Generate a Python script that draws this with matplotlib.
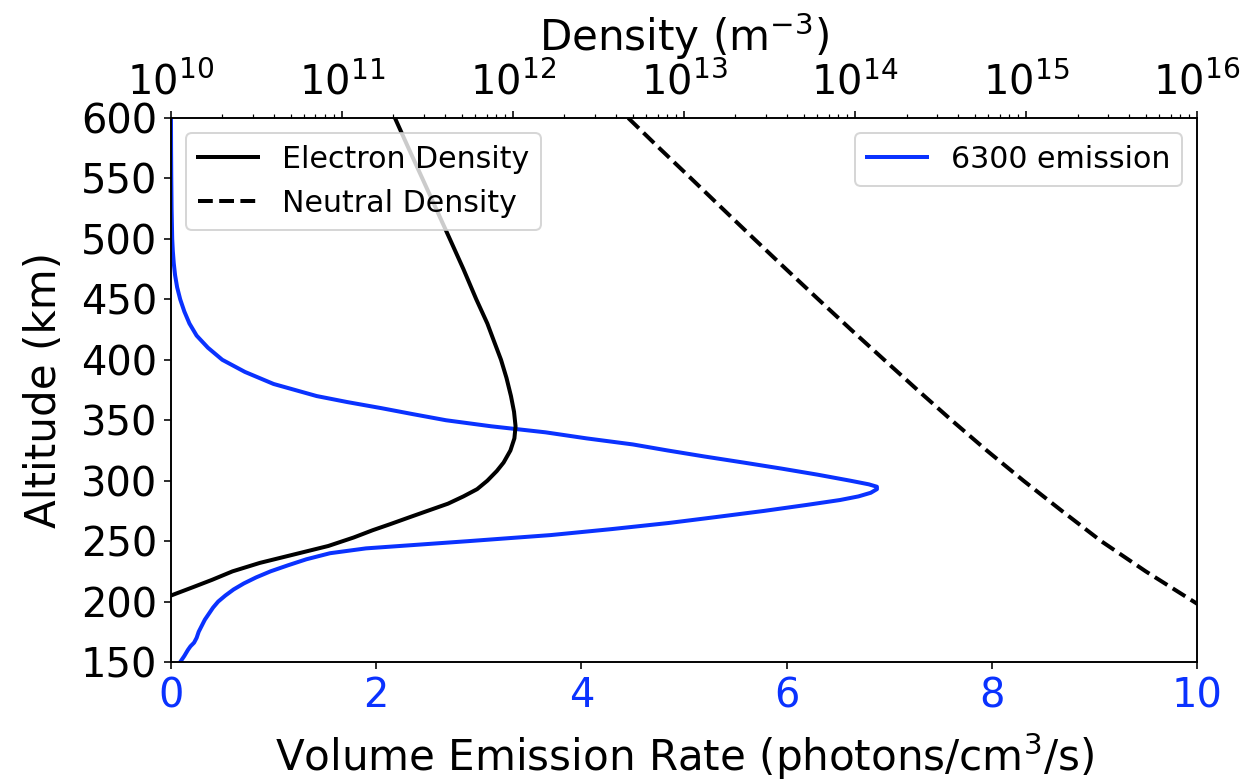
import matplotlib
matplotlib.use("Agg")
import matplotlib.pyplot as plt

# 6300 emission (volume emission rate, photons/cm^3/s) vs altitude (km)
ver_alt = [600, 575, 550, 525, 500, 490, 480, 470, 460, 450, 440, 430, 420, 410,
           400, 390, 380, 370, 365, 360, 355, 350, 345, 340, 335, 330, 325, 320,
           315, 310, 305, 300, 297, 295, 293, 290, 287, 284, 280, 275, 270, 265,
           260, 255, 250, 247, 244, 240, 235, 230, 225, 220, 215, 210, 205, 200,
           195, 190, 185, 180, 175, 170, 166, 163, 160, 155, 150]
ver_val = [0.0, 0.001, 0.003, 0.006, 0.012, 0.018, 0.027, 0.04, 0.06, 0.09, 0.13,
           0.18, 0.25, 0.36, 0.5, 0.72, 1.0, 1.42, 1.72, 2.05, 2.36, 2.68, 3.12,
           3.65, 4.05, 4.5, 4.84, 5.2, 5.58, 5.95, 6.3, 6.62, 6.8, 6.88, 6.88, 6.82,
           6.7, 6.52, 6.2, 5.78, 5.32, 4.85, 4.3, 3.7, 2.9, 2.4, 1.9, 1.55, 1.32,
           1.14, 0.97, 0.83, 0.71, 0.61, 0.53, 0.46, 0.41, 0.37, 0.33, 0.30, 0.27,
           0.25, 0.225, 0.19, 0.165, 0.13, 0.09]

# Electron density (m^-3) vs altitude (km)
ne_alt = [600, 575, 550, 525, 500, 475, 450, 430, 415, 400, 385, 370, 357, 345,
          335, 325, 315, 308, 300, 293, 287, 281, 275, 270, 264, 259, 253, 246,
          239, 232, 225, 218, 212, 205, 195]
ne_val = [2.04e11, 2.45e11, 2.95e11, 3.55e11, 4.27e11, 5.13e11, 6.10e11, 7.08e11,
          7.76e11, 8.51e11, 9.16e11, 9.73e11, 1.014e12, 1.035e12, 1.019e12,
          9.66e11, 8.81e11, 8.04e11, 7.08e11, 6.17e11, 5.13e11, 4.17e11, 3.16e11,
          2.51e11, 1.91e11, 1.51e11, 1.17e11, 8.32e10, 5.25e10, 3.31e10, 2.29e10,
          1.74e10, 1.35e10, 1.0e10, 6.9e9]

# Neutral density (m^-3) vs altitude (km)
nn_alt = [600, 575, 550, 525, 500, 475, 450, 425, 400, 375, 350, 325, 300, 275,
          250, 225, 200, 175, 150]
nn_val = [4.72e12, 7.18e12, 1.10e13, 1.68e13, 2.57e13, 3.95e13, 6.10e13, 9.46e13,
          1.48e14, 2.32e14, 3.67e14, 5.89e14, 9.66e14, 1.62e15, 2.75e15, 5.01e15,
          9.55e15, 1.82e16, 3.55e16]

yticks = [150, 200, 250, 300, 350, 400, 450, 500, 550, 600]
blue = '#0a32ff'

plt.rcParams['font.family'] = ['DejaVu Sans']
fig = plt.figure(figsize=(1259 / 144, 783 / 144), dpi=144)
ax = fig.add_axes([0.1358, 0.1545, 0.815, 0.6948])

ax.plot(ver_val, ver_alt, color=blue, lw=2, label='6300 emission')
ax.set_xlim(0, 10)
ax.set_ylim(150, 600)
ax.set_yticks(yticks)
ax.tick_params(axis='x', labelcolor=blue, color='black', labelsize=20)
ax.tick_params(axis='y', labelsize=20)
ax.set_xlabel('Volume Emission Rate (photons/cm$^3$/s)', fontsize=21, labelpad=7)
ax.set_ylabel('Altitude (km)', fontsize=21, labelpad=8)
ax.legend(loc='upper right', fontsize=15)

ax2 = ax.twiny()
ax2.plot(ne_val, ne_alt, color='black', lw=2, label='Electron Density')
ax2.plot(nn_val, nn_alt, color='black', lw=2, ls='--', label='Neutral Density')
ax2.set_xscale('log')
ax2.set_xlim(1e10, 1e16)
ax2.set_ylim(150, 600)
ax2.tick_params(axis='x', labelsize=20)
ax2.set_xlabel('Density (m$^{-3}$)', fontsize=21, labelpad=6)
ax2.legend(loc='upper left', fontsize=15)

fig.savefig('out.png', dpi=144)
